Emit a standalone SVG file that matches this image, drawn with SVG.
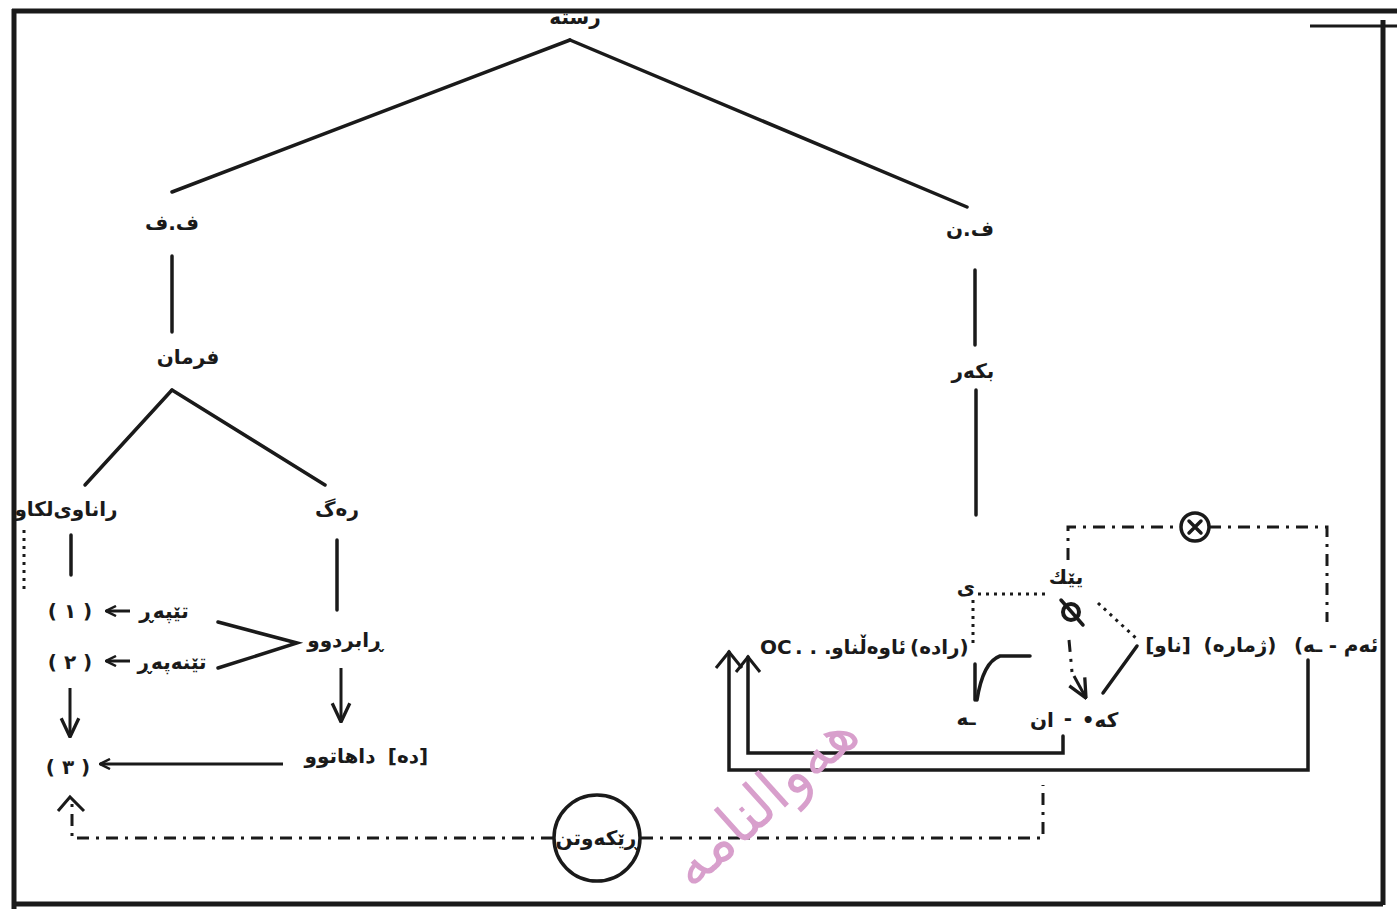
<svg xmlns="http://www.w3.org/2000/svg" width="1397" height="909" viewBox="0 0 1397 909">
<defs>
<marker id="arr" viewBox="0 0 12 12" refX="11" refY="6" markerWidth="12" markerHeight="12" markerUnits="userSpaceOnUse" orient="auto">
<path d="M1,1 L11,6 L1,11" fill="none" stroke="#1a1a1a" stroke-width="2.5"/>
</marker>
<marker id="arrB" viewBox="0 0 20 20" refX="19" refY="10" markerWidth="22" markerHeight="22" markerUnits="userSpaceOnUse" orient="auto">
<path d="M2,2 L19,10 L2,18" fill="none" stroke="#1a1a1a" stroke-width="3"/>
</marker>
</defs>
<style>
text{font-family:"DejaVu Sans","Noto Sans",sans-serif;font-weight:bold;fill:#1a1a1a;font-size:20px;text-anchor:middle}
.ln{stroke:#1a1a1a;stroke-width:3.5;fill:none;stroke-linecap:round}
.th{stroke:#1a1a1a;stroke-width:3;fill:none}
.dash{stroke:#1a1a1a;stroke-width:3;fill:none;stroke-dasharray:12 7 3 7}
.dot{stroke:#1a1a1a;stroke-width:3;fill:none;stroke-dasharray:3 5}
.wm{fill:#d89fcc;font-size:60px;font-weight:normal;font-family:"DejaVu Sans",sans-serif;text-anchor:end}
</style>
<rect width="1397" height="909" fill="#ffffff"/>

<g id="root"><text x="575" y="24">رسته</text></g>

<g id="connectors">
<path class="ln" d="M570,40 L172,192"/>
<path class="ln" d="M570,40 L967,207"/>
<path class="ln" d="M172,256 L172,332"/>
<path class="ln" d="M975,270 L975,345"/>
<path class="ln" d="M976,390 L976,515"/>
<path class="ln" d="M172,390 L85,485"/>
<path class="ln" d="M172,390 L325,485"/>
<path class="ln" d="M71,535 L71,575"/>
<path class="dot" d="M24,530 L24,592" stroke-width="2"/>
<path class="ln" d="M337,540 L337,610"/>
<path class="th" d="M130,611 L106,611" marker-end="url(#arr)"/>
<path class="th" d="M130,661 L106,661" marker-end="url(#arr)"/>
<path class="ln" d="M218,622 L297,643 L218,668"/>
<path class="th" d="M341,668 L341,722" marker-end="url(#arrB)"/>
<path class="th" d="M70,688 L70,737" marker-end="url(#arrB)"/>
<path class="th" d="M283,764 L100,764" marker-end="url(#arr)"/>
<path class="dash" d="M553,838 L72,838 L72,797" stroke-dasharray="12 8"/>
<path class="th" d="M58,811 L70,797 L84,811"/>
<path class="dash" d="M641,838 L1043,838 L1043,785" stroke-dasharray="12 8"/>
<!-- right side -->
<path class="dot" d="M978,594 L1045,594"/>
<path class="dot" d="M973,600 L973,645"/>
<path class="ln" d="M975,664 L975,700"/>
<path class="ln" d="M977,700 Q983,662 1000,656 L1030,656"/>
<path class="dot" d="M1098,603 L1138,640"/>
<path class="ln" d="M1103,693 L1137,646"/>
<path class="dash" d="M1069,640 L1072,672" stroke-dasharray="8 6"/>
<path class="th" d="M1074,676 L1086,698" marker-end="url(#arrB)"/>
<path class="dash" d="M1068,560 L1068,527 L1181,527"/>
<path class="dash" d="M1209,527 L1327,527 L1327,622"/>
<path class="ln" d="M1063,736 L1063,753 L748,753 L748,657"/>
<path class="th" d="M736,672 L748,657 L760,672"/>
<path class="ln" d="M1308,660 L1308,770 L729,770 L729,652"/>
<path class="th" d="M716,668 L729,652 L742,668"/>
</g>

<g id="n-ff"><text x="172" y="230">ف.ف</text></g>
<g id="n-fn"><text x="970" y="236">ف.ن</text></g>
<g id="n-farman"><text x="188" y="364">فرمان</text></g>
<g id="n-bkar"><text x="973" y="378">بکەر</text></g>
<g id="n-ranaw"><text x="66" y="516">راناوی‌لکاو</text></g>
<g id="n-rag"><text x="337" y="516">رەگ</text></g>
<g id="n-1"><text x="70" y="618">( ١ )</text></g>
<g id="n-2"><text x="70" y="669">( ٢ )</text></g>
<g id="n-3"><text x="68" y="774">( ٣ )</text></g>
<g id="n-tepar"><text x="164" y="618">تێپەڕ</text></g>
<g id="n-tenapar"><text x="172" y="669">تێنەپەڕ</text></g>
<g id="n-rabrdu"><text x="345" y="647">ڕابردوو</text></g>
<g id="n-dahatu"><text x="340" y="763">داهاتوو</text><text x="408" y="763">[ده]</text></g>
<g id="n-rekawtn"><circle cx="597" cy="838" r="43" fill="#fff" stroke="#1a1a1a" stroke-width="3.5"/><text x="597" y="845">ڕێکەوتن</text></g>
<g id="n-y"><text x="966" y="594">ی</text></g>
<g id="n-yek"><text x="1066" y="584">یێك</text></g>
<g id="n-empty"><circle cx="1071" cy="612" r="8" fill="none" stroke="#1a1a1a" stroke-width="4"/><path class="ln" d="M1061,600 L1083,625"/></g>
<g id="n-oc"><text x="760" y="654" style="text-anchor:start" font-size="18">OC</text><text x="795" y="654" style="text-anchor:start" font-size="14">. . .</text><text x="906" y="654" style="text-anchor:end" font-size="18">ئاوەڵناو</text><text x="910" y="654" style="text-anchor:start" font-size="18">(رادە)</text></g>
<g id="n-h"><text x="966" y="725">ـه</text></g>
<g id="n-an"><text x="1042" y="727">ان</text><text x="1068" y="725">-</text><text x="1100" y="727">•كه</text></g>
<g id="n-naw"><text x="1168" y="652">[ناو]</text></g>
<g id="n-zhmara"><text x="1240" y="652">(ژمارە)</text></g>
<g id="n-am"><text x="1308" y="652">(ـه</text><text x="1333" y="652">-</text><text x="1361" y="652">ئەم</text></g>
<g id="n-x"><circle cx="1195" cy="527" r="14" fill="#fff" stroke="#1a1a1a" stroke-width="3.5"/><path class="ln" d="M1189,521 L1201,533 M1201,521 L1189,533" stroke-width="3"/></g>

<text class="wm" x="0" y="0" transform="translate(862,738) rotate(-42)">هەوالنامە</text>

<g id="frame">
<path d="M12,11 L1397,11" stroke="#1a1a1a" stroke-width="5"/>
<path d="M1310,26 L1397,26" stroke="#1a1a1a" stroke-width="3"/>
<path d="M14,9 L14,909" stroke="#1a1a1a" stroke-width="5"/>
<path d="M1383,20 L1383,905" stroke="#1a1a1a" stroke-width="5"/>
<path d="M14,904 L1383,904" stroke="#1a1a1a" stroke-width="5"/>
</g>
</svg>
